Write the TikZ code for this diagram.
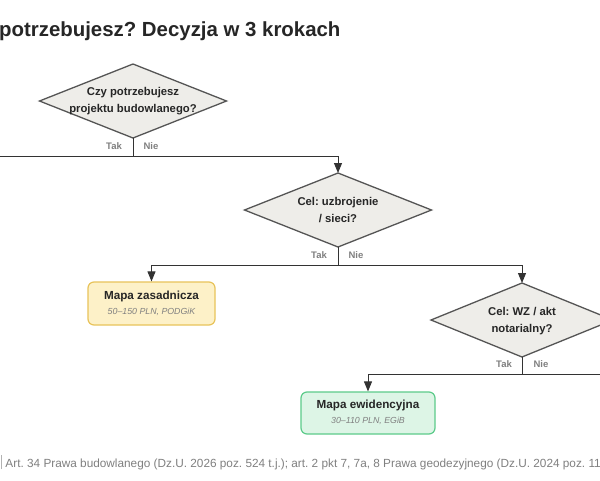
\documentclass[tikz,border=0pt]{standalone}
\usepackage{fontspec}
\setmainfont{Liberation Sans}
\usetikzlibrary{arrows.meta}
\definecolor{dfill}{HTML}{EEEDE9}
\definecolor{dline}{HTML}{555555}
\definecolor{yfill}{HTML}{FDF1C8}
\definecolor{yline}{HTML}{E8C35A}
\definecolor{gfill}{HTML}{DDF5E6}
\definecolor{gline}{HTML}{5CCB8A}
\frenchspacing
\begin{document}
\begin{tikzpicture}[x=1pt,y=-1pt,
  dshape/.style={draw=dline,line width=1.3pt,fill=dfill,line join=miter},
  dtext/.style={inner sep=0pt,align=center,font=\fontsize{11.3}{17}\selectfont\bfseries,text=black!85},
  box/.style={rounded corners=6pt,line width=1.2pt,align=center,inner sep=0pt},
  lab/.style={font=\fontsize{9.5}{10}\selectfont\bfseries,text=gray},
  con/.style={draw=black!80,line width=1pt},
  arr/.style={con,-{Triangle[length=10pt,width=8pt]}},
  btitle/.style={font=\fontsize{11.7}{12}\selectfont\bfseries,text=black!85},
  sub/.style={font=\fontsize{8.8}{10}\selectfont\itshape,text=gray}]
\useasboundingbox (0,0) rectangle (600,480);
\clip (0,0) rectangle (600,480);
\fill[white] (0,0) rectangle (600,480);
\node[anchor=base west,inner sep=0pt,font=\fontsize{20.4}{22}\selectfont\bfseries,text=black!85] (title) at (-1,36) {potrzebujesz? Decyzja w 3 krokach};
% diamonds
\draw[dshape] (133,64) -- (226.5,101) -- (133,138) -- (39.5,101) -- cycle;
\coordinate (d1s) at (133,138);
\node[dtext] (d1) at (133,101) {Czy potrzebujesz\\projektu budowlanego?};
\draw[dshape] (338,173) -- (431.5,210) -- (338,247) -- (244.5,210) -- cycle;
\coordinate (d2n) at (338,173);
\coordinate (d2s) at (338,247);
\node[dtext] (d2) at (338,210) {Cel: uzbrojenie\\/ sieci?};
\draw[dshape] (522,283) -- (613,320) -- (522,357) -- (431,320) -- cycle;
\coordinate (d3n) at (522,283);
\coordinate (d3s) at (522,357);
\node[dtext] (d3) at (522,321) {Cel: WZ / akt\\notarialny?};
% boxes
\node[box,draw=yline,fill=yfill,minimum width=127pt,minimum height=43pt] (b1) at (151.5,303.5) {};
\node[btitle] (b1t) at (151.5,296) {Mapa zasadnicza};
\node[sub] (b1s) at (151.5,312) {50–150 PLN, PODGiK};
\node[box,draw=gline,fill=gfill,minimum width=134pt,minimum height=42pt] (b2) at (368,413) {};
\node[btitle] (b2t) at (368,405) {Mapa ewidencyjna};
\node[sub] (b2s) at (368,421) {30–110 PLN, EGiB};
\coordinate (j1) at (133,156);
\coordinate (l1) at (-5,156);
\coordinate (j2) at (338,265);
\coordinate (j3) at (522,374);
\coordinate (r3) at (605,374);
\draw[con] (d1s) -- (j1) -- (l1);
\draw[arr] (j1) -| (d2n);
\draw[con] (d2s) -- (j2);
\draw[arr] (j2) -| (b1.north);
\draw[arr] (j2) -| (d3n);
\draw[con] (d3s) -- (j3) -- (r3);
\draw[arr] (j3) -| (b2.north);
\node[lab] (t1) at (114,146) {Tak};
\node[lab] (n1) at (151,146) {Nie};
\node[lab] (t2) at (319,255) {Tak};
\node[lab] (n2) at (356,255) {Nie};
\node[lab] (t3) at (504,364) {Tak};
\node[lab] (n3) at (541,364) {Nie};
\node[anchor=base west,inner sep=0pt,font=\fontsize{11.8}{12}\selectfont,text=gray] (foot) at (1,467) {{\color{black!30}\rule[-2pt]{1pt}{14pt}} Art. 34 Prawa budowlanego (Dz.U. 2026 poz. 524 t.j.); art. 2 pkt 7, 7a, 8 Prawa geodezyjnego (Dz.U. 2024 poz. 1151)};
\end{tikzpicture}
\end{document}
